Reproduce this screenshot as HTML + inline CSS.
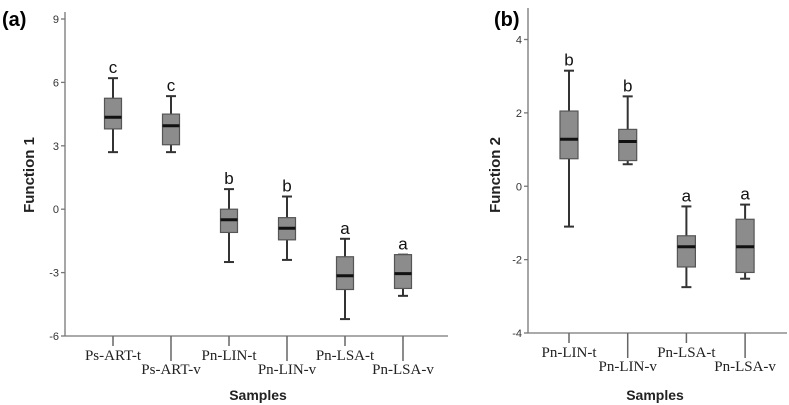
<!DOCTYPE html>
<html><head><meta charset="utf-8"><style>
html,body{margin:0;padding:0;background:#fff;}
svg{display:block;}
</style></head><body>
<svg id="chart" width="789" height="405" xmlns="http://www.w3.org/2000/svg">
<text x="2" y="26" font-family="Liberation Sans, sans-serif" font-weight="bold" font-size="20">(a)</text>
<text x="494" y="26" font-family="Liberation Sans, sans-serif" font-weight="bold" font-size="20">(b)</text>
</svg>
<script>
// Panel A data
const catsA = ["Ps-ART-t","Ps-ART-v","Pn-LIN-t","Pn-LIN-v","Pn-LSA-t","Pn-LSA-v"];
const minA = [2.7, 2.7, -2.5, -2.4, -5.2, -4.1];
const q1A = [3.8, 3.05, -1.1, -1.45, -3.8, -3.75];
const medA = [4.35, 3.95, -0.5, -0.9, -3.15, -3.05];
const q3A = [5.25, 4.5, 0.0, -0.4, -2.25, -2.15];
const maxA = [6.2, 5.35, 0.95, 0.6, -1.4, -2.15];
const letA = ["c","c","b","b","a","a"];
const ticksA = [9, 6, 3, 0, -3, -6];
// Panel B data
const catsB = ["Pn-LIN-t","Pn-LIN-v","Pn-LSA-t","Pn-LSA-v"];
const minB = [-1.1, 0.6, -2.75, -2.52];
const q1B = [0.75, 0.7, -2.2, -2.35];
const medB = [1.28, 1.22, -1.65, -1.65];
const q3B = [2.05, 1.55, -1.35, -0.9];
const maxB = [3.15, 2.45, -0.55, -0.5];
const letB = ["b","b","a","a"];
const ticksB = [4, 2, 0, -2, -4];

const NS="http://www.w3.org/2000/svg";
const svg=document.getElementById('chart');
function mk(tag,attrs,parent){const e=document.createElementNS(NS,tag);for(const k in attrs)e.setAttribute(k,attrs[k]);(parent||svg).appendChild(e);return e;}

function panel(p){
  const g=mk('g',{});
  
  
  const y=v=>p.y0+(v-p.v0)*(p.y1-p.y0)/(p.v1-p.v0);
  const x=i=>p.xStart+i*p.step;
  const ax=mk('line',{x1:p.ax,y1:p.top,x2:p.ax,y2:p.bot,stroke:'#777','stroke-width':1.3},g);
  
  
  const bx=mk('line',{x1:p.ax,y1:p.bot,x2:p.right,y2:p.bot,stroke:'#777','stroke-width':1.3},g);
  
  
  p.ticks.forEach(t=>{
    mk('line',{x1:p.ax-4,y1:y(t),x2:p.ax,y2:y(t),stroke:'#777','stroke-width':1.3},g);
    const tl=mk('text',{x:p.ax-6,y:y(t)+4,'text-anchor':'end','font-family':'Liberation Sans, sans-serif','font-size':11,fill:'#333'},g);
    tl.textContent=t;
    
    
  });
  p.cats.forEach((c,i)=>{
    const cx=x(i), w=p.bw, odd=i%2===1;
    mk('line',{x1:cx,y1:p.bot,x2:cx,y2:p.bot+(odd?25:10),stroke:'#666','stroke-width':1.5},g);
    const lab=mk('text',{x:cx,y:p.bot+(odd?38:24),'text-anchor':'middle','font-family':'Liberation Serif, serif','font-size':15,fill:'#222'},g);
    lab.textContent=c;
    
    
    const bg=mk('g',{},g);
    
    
    mk('line',{x1:cx,y1:y(p.max[i]),x2:cx,y2:y(p.min[i]),stroke:'#333','stroke-width':2},bg);
    mk('line',{x1:cx-5,y1:y(p.max[i]),x2:cx+5,y2:y(p.max[i]),stroke:'#333','stroke-width':2},bg);
    mk('line',{x1:cx-5,y1:y(p.min[i]),x2:cx+5,y2:y(p.min[i]),stroke:'#333','stroke-width':2},bg);
    mk('rect',{x:cx-w/2,y:y(p.q3[i]),width:w,height:y(p.q1[i])-y(p.q3[i]),fill:'#8c8c8c',stroke:'#555','stroke-width':1.2},bg);
    mk('line',{x1:cx-w/2,y1:y(p.med[i]),x2:cx+w/2,y2:y(p.med[i]),stroke:'#111','stroke-width':3},bg);
    const lt=mk('text',{x:cx,y:y(p.max[i])-5,'text-anchor':'middle','font-family':'Liberation Sans, sans-serif','font-size':17,fill:'#111'},g);
    lt.textContent=p.let[i];
    
    
  });
  const xt=mk('text',{x:p.xt,y:400,'text-anchor':'middle','font-family':'Liberation Sans, sans-serif','font-size':14,'font-weight':'bold',fill:'#222'},g);
  xt.textContent='Samples';
  
  
  const yt=mk('text',{x:0,y:0,'text-anchor':'middle','font-family':'Liberation Sans, sans-serif','font-size':15,'font-weight':'bold',fill:'#222',transform:'translate('+p.ytx+',175) rotate(-90)'},g);
  yt.textContent=p.ytitle;
  
  
}
panel({id:'panel-a',cats:catsA,min:minA,q1:q1A,med:medA,q3:q3A,max:maxA,let:letA,ticks:ticksA,
  v0:9,v1:-6,y0:19,y1:336,ax:65,top:12,bot:336,right:448,xStart:113,step:58,bw:17,xt:258,ytx:34,ytitle:'Function 1'});
panel({id:'panel-b',cats:catsB,min:minB,q1:q1B,med:medB,q3:q3B,max:maxB,let:letB,ticks:ticksB,
  v0:4,v1:-4,y0:39.5,y1:333,ax:528,top:8,bot:333,right:787,xStart:569,step:58.7,bw:18,xt:655,ytx:500,ytitle:'Function 2'});
</script>
</body></html>
